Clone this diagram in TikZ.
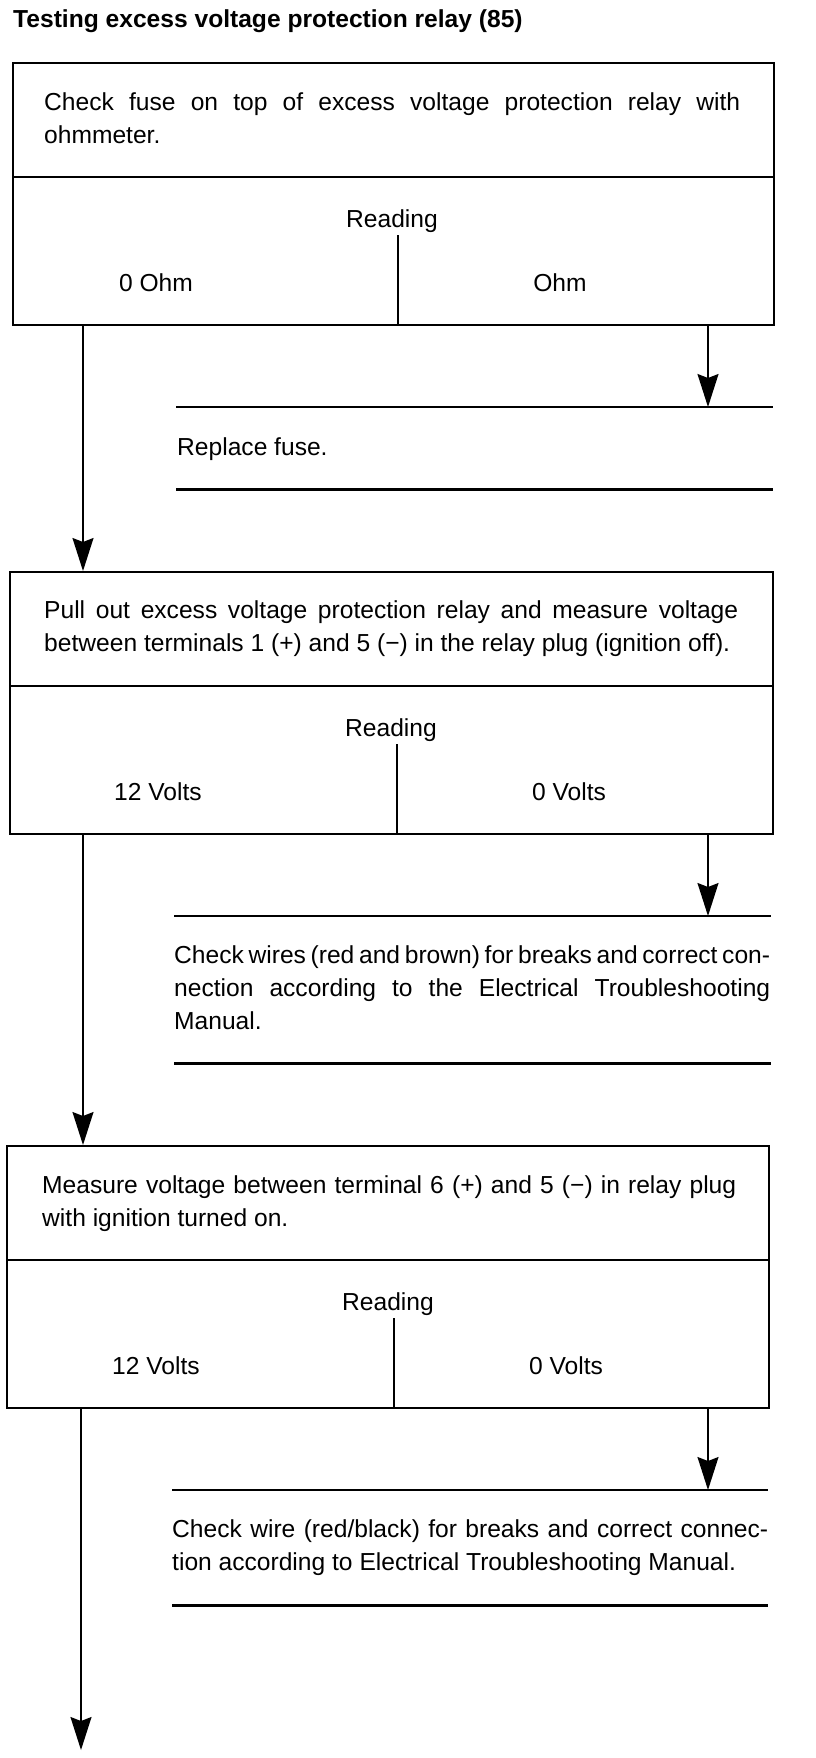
\documentclass[tikz,border=0pt]{standalone}
\usepackage{fontspec}
\setmainfont{Liberation Sans}
\usetikzlibrary{arrows.meta}

% one justified line of a given width
\newcommand{\fillline}[2]{\hbox to #1{\spaceskip=0.278em plus 1fil minus 0.1em\relax #2}}

\tikzset{
  frame/.style={draw, line width=2.2pt, inner sep=0pt, anchor=north west},
  rule/.style={line width=2.2pt},
  flow/.style={-{Stealth[length=33pt, width=21pt, inset=4pt]}, line width=1.6pt},
  txt/.style={font=\fontsize{24.6}{33.3}\selectfont, inner sep=0pt},
  para/.style={txt, anchor=north west, align=left},
}

\begin{document}
\begin{tikzpicture}[x=1pt, y=-1pt]
  \useasboundingbox (0,0) rectangle (816,1758);
  \node[txt, font=\fontsize{24.6}{33.3}\selectfont\bfseries, anchor=base west] (title) at (13,28) {Testing excess voltage protection relay (85)};

  % question boxes: name/top/left/right/middle
  \foreach \nm/\yy/\xl/\xr/\xm in {q1/62/12/773/398, q2/571/9/772/397, q3/1145/6/768/394} {
    \pgfmathsetmacro{\ww}{\xr-\xl}
    \node[frame, minimum width=\ww pt, minimum height=262pt] (\nm) at (\xl,\yy) {};
    \draw[rule] (\xl,\yy+115) -- (\xr,\yy+115);
    \draw[rule] (\xm,\yy+173) -- (\xm,\yy+262);
    \node[txt, anchor=base] (\nm read) at (\xm-6,\yy+165) {Reading};
  }

  % answer strips
  \foreach \nm/\yt/\yb/\xl/\xr in {a1/407/489/176/773, a2/916/1063/174/771, a3/1490/1605/172/768} {
    \pgfmathsetmacro{\ww}{\xr-\xl}
    \pgfmathsetmacro{\hh}{\yb-\yt}
    \node[inner sep=0pt, anchor=north west, minimum width=\ww pt, minimum height=\hh pt] (\nm) at (\xl,\yt) {};
    \draw[rule] (\nm.north west) -- (\nm.north east);
    \draw[rule] (\nm.south west) -- (\nm.south east);
  }

  % texts
  \node[para] (q1text) at (44,110-23.3) {\strut\fillline{696pt}{Check fuse on top of excess voltage protection relay with}\\ohmmeter.};
  \node[txt, anchor=base] (q1lo) at (156,291) {0 Ohm};
  \node[txt, anchor=base] (q1hi) at (560,291) {Ohm};

  \node[para] (q2text) at (44,618-23.3) {\strut\fillline{694pt}{Pull out excess voltage protection relay and measure voltage}\\between terminals 1 (+) and 5 (−) in the relay plug (ignition off).};
  \node[txt, anchor=base] (q2ok) at (158,800) {12 Volts};
  \node[txt, anchor=base] (q2no) at (569,800) {0 Volts};

  \node[para] (q3text) at (42,1193-23.3) {\strut\fillline{694pt}{Measure voltage between terminal 6 (+) and 5 (−) in relay plug}\\with ignition turned on.};
  \node[txt, anchor=base] (q3ok) at (156,1374) {12 Volts};
  \node[txt, anchor=base] (q3no) at (566,1374) {0 Volts};

  \node[para] (a1text) at (177,455-23.3) {\strut Replace fuse.};
  \node[para] (a2text) at (174,963-23.3) {\strut\fillline{596pt}{Check wires (red and brown) for breaks and correct con-}\\\fillline{596pt}{nection according to the Electrical Troubleshooting}\\Manual.};
  \node[para] (a3text) at (172,1537-23.3) {\strut\fillline{596pt}{Check wire (red/black) for breaks and correct connec-}\\tion according to Electrical Troubleshooting Manual.};

  % connectors
  \coordinate (lane) at (83,0);
  \coordinate (side) at (708,0);
  \coordinate (stop) at (81,1750);
  \draw[flow] (q1.south -| lane) -- (q2.north -| lane);
  \draw[flow] (q2.south -| lane) -- (q3.north -| lane);
  \draw[flow] (q3.south -| stop) -- (stop);
  \draw[flow] (q1.south -| side) -- (a1.north -| side);
  \draw[flow] (q2.south -| side) -- (a2.north -| side);
  \draw[flow] (q3.south -| side) -- (a3.north -| side);
\end{tikzpicture}
\end{document}
